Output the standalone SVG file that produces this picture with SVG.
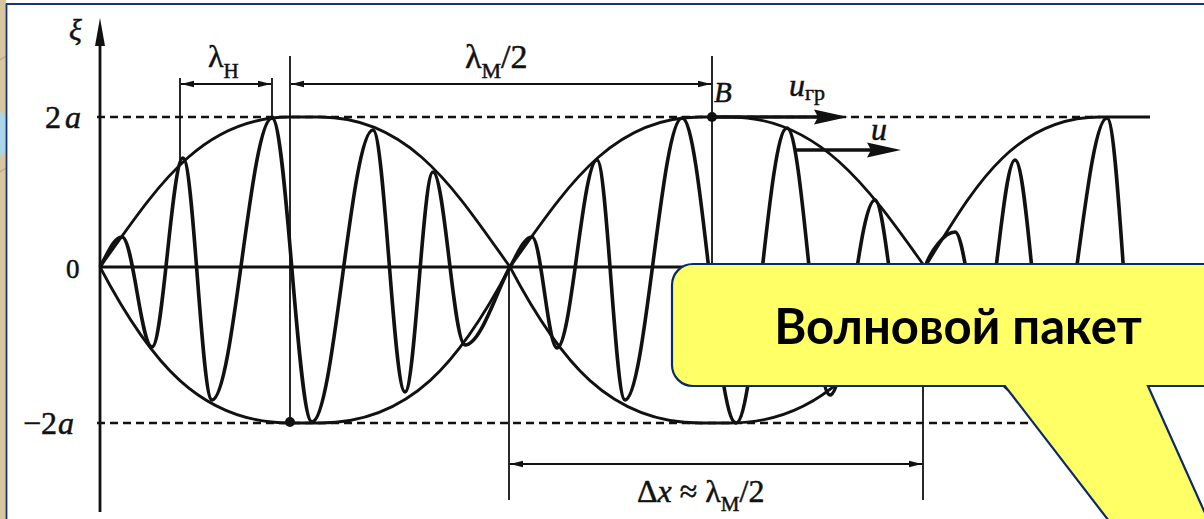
<svg xmlns="http://www.w3.org/2000/svg" width="1204" height="519" viewBox="0 0 1204 519">
<style>
.serif{font-family:"Liberation Serif","DejaVu Serif",serif;fill:#111;stroke:#111;stroke-width:0.5}
.it{font-style:italic}
.wave{fill:none;stroke:#111;stroke-width:3.6;stroke-linejoin:round}
.env{fill:none;stroke:#111;stroke-width:2.8}
.axis{stroke:#111;stroke-width:2.8;fill:none}
.dim{stroke:#111;stroke-width:1.8;fill:none}
.dash{stroke:#111;stroke-width:2.4;stroke-dasharray:8 5;fill:none}
</style>
<defs>
<marker id="ah" viewBox="0 0 13 8" refX="13" refY="4" markerWidth="13" markerHeight="8" markerUnits="userSpaceOnUse" orient="auto-start-reverse">
<path d="M0,0.8 L13,4 L0,7.2 Z" fill="#111"/>
</marker>
</defs>
<rect x="0" y="0" width="1204" height="519" fill="#ffffff"/>
<g id="frame">
<rect x="0" y="0" width="6" height="519" fill="#d8c79e"/>
<polygon points="0,110 6,118 6,150 0,157" fill="#a9d6e8"/>
<line x1="0" y1="60" x2="6" y2="56" stroke="#b9ad8f" stroke-width="1.5"/>
<line x1="0" y1="172" x2="6" y2="168" stroke="#b9ad8f" stroke-width="1.5"/>
<line x1="6.5" y1="3.5" x2="6.5" y2="519" stroke="#1b3378" stroke-width="1.8"/>
<line x1="6" y1="4" x2="1204" y2="4" stroke="#1b3378" stroke-width="2"/>
</g>
<g id="axes">
<line class="axis" x1="100" y1="512" x2="100" y2="40" stroke-width="3.2"/>
<polygon points="100,18 95,46 105,46" fill="#111"/>
<line class="axis" x1="100" y1="267" x2="1204" y2="267"/>
<line class="dash" x1="97" y1="117" x2="1100" y2="117"/>
<line class="dash" x1="97" y1="423" x2="1150" y2="423"/>
</g>
<g id="envelope">
<path class="env" d="M100,267 C155,190 200,117 290,117 L320,117 C410,117 455,190 510,267 C565,190 610,117 700,117 L730,117 C820,117 870,190 925,267 C970,195 1010,117 1100,117 L1150,117"/>
<path class="env" d="M100,267 C150,362 200,423 290,423 L320,423 C410,423 460,362 510,267 C560,362 610,423 700,423 L730,423 C820,423 870,362 925,267 C970,355 1010,423 1100,423 L1150,423"/>
</g>
<g id="wave">
<path class="wave" d="M100,267 C108,253 114,237 122,237 C133,237 141,347 152,347 C163,347 172,158 183,158 C193.5,158 201.5,400 212,400 C233.6,400 250.4,118 272,118 C286.4,118 297.6,422 312,422 C334,422 351,130 373,130 C384.5,130 393.5,392 405,392 C415,392 423,172 433,172 C444.5,172 453.5,345 465,345 C481,345 498,287 510,267 C517,255 524,237 532,237 C541,237 548,348 557,348 C571.4,348 582.6,160 597,160 C607,160 615,400 625,400 C645.5,400 661.5,118 682,118 C701.4,118 716.6,423 736,423 C754.4,423 768.6,128 787,128 C802.5,128 814.5,395 830,395 C846,395 859,200 875,200 C885,200 893,335 903,335 C913,335 919,285 925,267 C931,250 945,232 955,232 C964.7,232 972.3,335 982,335 C994,335 1003,160 1015,160 C1027.6,160 1037.4,390 1050,390 C1070.5,390 1086.5,118 1107,118 C1119,118 1128,420 1140,420"/>
<circle cx="712" cy="117" r="5" fill="#111"/>
<circle cx="290" cy="422" r="5" fill="#111"/>
</g>
<g id="connectors">
<line class="dim" x1="180" y1="78" x2="180" y2="160"/>
<line class="dim" x1="272" y1="78" x2="272" y2="118"/>
<line class="dim" x1="290" y1="56" x2="290" y2="423"/>
<line class="dim" x1="712" y1="56" x2="712" y2="267"/>
<line class="dim" x1="509" y1="267" x2="509" y2="500"/>
<line class="dim" x1="923" y1="267" x2="923" y2="500"/>
<line class="dim" x1="181" y1="84" x2="271" y2="84" marker-start="url(#ah)" marker-end="url(#ah)"/>
<line class="dim" x1="291" y1="84" x2="711" y2="84" marker-start="url(#ah)" marker-end="url(#ah)"/>
<line class="dim" x1="510" y1="464" x2="922" y2="464" marker-start="url(#ah)" marker-end="url(#ah)"/>
<line x1="712" y1="117" x2="822" y2="117" stroke="#111" stroke-width="3.6"/>
<polygon points="848,117 814,109.5 818,117 814,124.5" fill="#111"/>
<line x1="795" y1="150" x2="876" y2="150" stroke="#111" stroke-width="3.6"/>
<polygon points="901,150 867,142.5 871,150 867,157.5" fill="#111"/>
</g>
<g id="labels">
<text class="serif it" x="69" y="40" font-size="30">ξ</text>
<text class="serif" x="45" y="128" font-size="32">2<tspan class="it" dx="4">a</tspan></text>
<text class="serif" x="66" y="278" font-size="27">0</text>
<text class="serif" x="23" y="434" font-size="32">−2<tspan class="it" dx="1">a</tspan></text>
<text class="serif" x="208" y="67" font-size="32">λ<tspan font-size="21" dy="11">H</tspan></text>
<text class="serif" x="465" y="68" font-size="34">λ<tspan font-size="22" dy="10">M</tspan><tspan dy="-10">/2</tspan></text>
<text class="serif it" x="714" y="102" font-size="29">B</text>
<text class="serif" x="789" y="96" font-size="32"><tspan class="it">u</tspan><tspan font-size="22" dy="4">гр</tspan></text>
<text class="serif it" x="871" y="140" font-size="32">u</text>
<text class="serif" x="637" y="502" font-size="32">Δ<tspan class="it">x</tspan> ≈ λ<tspan font-size="21" dy="9">M</tspan><tspan dy="-9">/2</tspan></text>
</g>
<g id="callout">
<path d="M693,264 H1240 V386 H1148 L1226,560 L1139,560 L1005,386 H693 A21,21 0 0 1 672,365 V285 A21,21 0 0 1 693,264 Z" fill="#ffff66" stroke="#0c2a6b" stroke-width="2.2"/>
<text x="958" y="344" font-family="Lato, 'Open Sans', sans-serif" font-weight="bold" font-size="49" text-anchor="middle" fill="#000">Волновой пакет</text>
</g>
</svg>
